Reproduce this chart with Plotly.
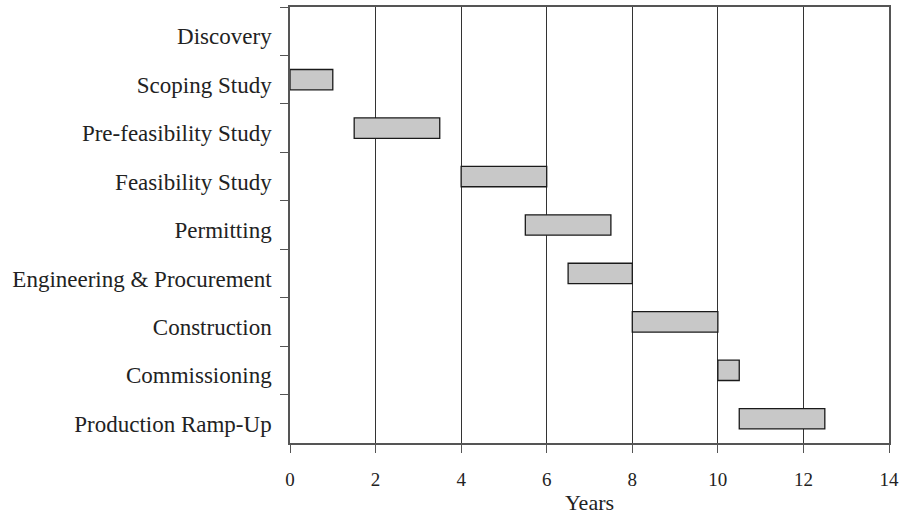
import plotly.graph_objects as go

tasks = ["Discovery", "Scoping Study", "Pre-feasibility Study", "Feasibility Study",
         "Permitting", "Engineering & Procurement", "Construction",
         "Commissioning", "Production Ramp-Up"]
starts = [None, 0, 1.5, 4, 5.5, 6.5, 8, 10, 10.5]
ends = [None, 1, 3.5, 6, 7.5, 8, 10, 10.5, 12.5]
durations = [None if s is None else e - s for s, e in zip(starts, ends)]
x_ticks = [0, 2, 4, 6, 8, 10, 12, 14]

fig = go.Figure()
fig.add_trace(go.Bar(
    y=tasks, x=durations, base=starts, orientation="h",
    marker=dict(color="#c8c8c8", line=dict(color="#1a1a1a", width=1.3)),
    width=0.42, showlegend=False,
))

family = "Liberation Serif, Times New Roman, serif"
fig.update_layout(
    width=899, height=521,
    margin=dict(l=290, r=10, t=7, b=78),
    plot_bgcolor="white", paper_bgcolor="white",
    font=dict(family=family, size=22, color="#222222"),
    bargap=0.58,
)
fig.update_xaxes(
    range=[0, 14], tickvals=x_ticks, ticktext=[str(v) for v in x_ticks],
    tickfont=dict(family=family, size=19, color="#222222"),
    showgrid=True, gridcolor="#333333", gridwidth=1.2,
    showline=True, linecolor="#555555", linewidth=1.5, mirror=True,
    ticks="outside", ticklen=8, tickcolor="#555555",
    ticklabelstandoff=10,
    zeroline=False, automargin=False,
    title=dict(text="Years", standoff=6, font=dict(family=family, size=22, color="#222222")),
)
fig.update_yaxes(
    type="category", categoryorder="array", categoryarray=tasks,
    autorange="reversed", tickson="boundaries",
    tickfont=dict(family=family, size=23, color="#222222"),
    showgrid=False, showline=True, linecolor="#555555", linewidth=1.5, mirror=True,
    ticks="outside", ticklen=8, tickcolor="#555555",
    ticklabelstandoff=12, ticklabelshift=-5, automargin=False,
)
fig.write_html("out.html", config={"displayModeBar": False})

with open("out.html", encoding="utf-8") as f:
    html = f.read()
html = html.replace("<body>", '<body style="margin:0">', 1)
with open("out.html", "w", encoding="utf-8") as f:
    f.write(html)
